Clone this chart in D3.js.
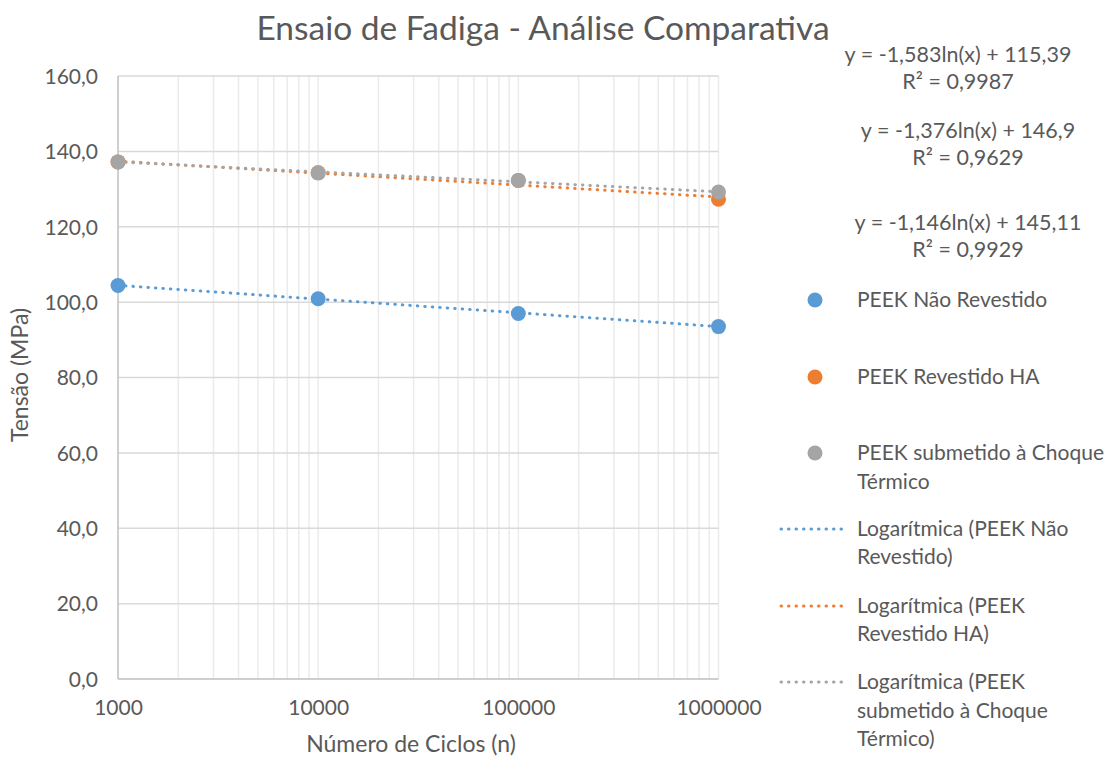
<!DOCTYPE html>
<html>
<head>
<meta charset="utf-8">
<script src="https://cdn.jsdelivr.net/npm/d3@7"></script>
<style>
  html, body { margin: 0; padding: 0; background: #fff; }
  svg { display: block; font-family: Lato, "Open Sans", sans-serif; }
</style>
</head>
<body>
<svg id="chart" width="1109" height="758"></svg>
<script>
// Fatigue test: stress vs number of cycles for three PEEK conditions
const cycles = [1000, 10000, 100000, 1000000];
const naoRevestido = [104.4, 100.9, 97.0, 93.5];
const revestidoHA = [137.2, 134.3, 132.3, 127.3];
const choqueTermico = [137.2, 134.3, 132.3, 129.2];

const seriesNames = ["PEEK Não Revestido", "PEEK Revestido HA", "PEEK submetido à Choque Térmico"];
const seriesColors = ["#5b9bd5", "#ed7d31", "#a5a5a5"];

// Logarithmic trend lines y = a·ln(x) + b
const trendA = [-1.583, -1.376, -1.146];
const trendB = [115.39, 146.9, 145.11];
const trendR2 = ["0,9987", "0,9629", "0,9929"];
const trendLabels = [
  ["Logarítmica (PEEK Não", "Revestido)"],
  ["Logarítmica (PEEK", "Revestido HA)"],
  ["Logarítmica (PEEK", "submetido à Choque", "Térmico)"]
];

const yTicks = [0, 20, 40, 60, 80, 100, 120, 140, 160];
const xTicks = [1000, 10000, 100000, 1000000];

const svg = d3.select("#chart");
const textColor = "#595959";
const fmtComma = (v, d) => v.toFixed(d).replace(".", ",");

const plotL = 118, plotR = 718.5, plotT = 76, plotB = 679;
const x = d3.scaleLog().domain([1000, 1000000]).range([plotL, plotR]);
const y = d3.scaleLinear().domain([0, 160]).range([plotB, plotT]);

// Title
svg.append("text").attr("x", 543).attr("y", 40)
  .attr("text-anchor", "middle").attr("fill", textColor)
  .attr("font-size", 33.5).text("Ensaio de Fadiga - Análise Comparativa");

// Vertical grid (major + minor decades)
const minor = [];
for (let e = 3; e < 6; e++) for (let m = 1; m <= 9; m++) minor.push(m * Math.pow(10, e));
minor.push(1000000);
svg.append("g").selectAll("line").data(minor.filter(v => v > 1000)).join("line")
  .attr("x1", d => x(d)).attr("x2", d => x(d))
  .attr("y1", plotT).attr("y2", plotB)
  .attr("stroke", "#ebebeb").attr("stroke-width", 1.5);

// Horizontal grid
svg.append("g").selectAll("line").data(yTicks.filter(v => v > 0)).join("line")
  .attr("x1", plotL).attr("x2", plotR)
  .attr("y1", d => y(d)).attr("y2", d => y(d))
  .attr("stroke", "#d9d9d9").attr("stroke-width", 1.5);

// Axis lines
svg.append("line").attr("x1", plotL).attr("x2", plotL).attr("y1", plotT).attr("y2", plotB)
  .attr("stroke", "#bfbfbf").attr("stroke-width", 1.5);
svg.append("line").attr("x1", plotL).attr("x2", plotR).attr("y1", plotB).attr("y2", plotB)
  .attr("stroke", "#bfbfbf").attr("stroke-width", 1.5);

// Tick labels via d3 axes
const yAxis = svg.append("g").attr("transform", `translate(${plotL},0)`)
  .call(d3.axisLeft(y).tickValues(yTicks).tickSize(0).tickPadding(20)
    .tickFormat(d => fmtComma(d, 1)));
const xAxis = svg.append("g").attr("transform", `translate(0,${plotB})`)
  .call(d3.axisBottom(x).tickValues(xTicks).tickSize(0).tickPadding(21)
    .tickFormat(d => String(d)));
[yAxis, xAxis].forEach(g => {
  g.select(".domain").remove();
  g.selectAll("text").attr("fill", textColor).attr("font-size", 21)
    .attr("font-family", "Lato, sans-serif");
});
yAxis.selectAll("text").attr("dy", "0.35em");

// Axis titles
svg.append("text").attr("x", 411).attr("y", 752).attr("text-anchor", "middle")
  .attr("fill", textColor).attr("font-size", 23).text("Número de Ciclos (n)");
svg.append("text").attr("transform", "translate(28,375) rotate(-90)")
  .attr("text-anchor", "middle").attr("fill", textColor).attr("font-size", 23)
  .text("Tensão (MPa)");

// Trend lines
const trendPts = d3.range(0, 61).map(i => Math.pow(10, 3 + i * 0.05));
const line = d3.line().x(d => x(d[0])).y(d => y(d[1]));
trendA.forEach((a, i) => {
  svg.append("path")
    .attr("d", line(trendPts.map(v => [v, a * Math.log(v) + trendB[i]])))
    .attr("fill", "none").attr("stroke", seriesColors[i]).attr("stroke-width", 3)
    .attr("stroke-linecap", "round").attr("stroke-dasharray", "0.5 7");
});

// Data markers
[naoRevestido, revestidoHA, choqueTermico].forEach((vals, i) => {
  svg.append("g").selectAll("circle").data(vals).join("circle")
    .attr("cx", (d, j) => x(cycles[j])).attr("cy", d => y(d))
    .attr("r", 7.5).attr("fill", seriesColors[i]);
});

// Trend equations
const eqPos = [[958, 62, 89], [968, 138, 165], [968, 230, 257]];
trendA.forEach((a, i) => {
  const [ex, ey1, ey2] = eqPos[i];
  svg.append("text").attr("x", ex).attr("y", ey1).attr("text-anchor", "middle")
    .attr("fill", textColor).attr("font-size", 21.5)
    .text(`y = ${fmtComma(a, 3)}ln(x) + ${String(trendB[i]).replace(".", ",")}`);
  svg.append("text").attr("x", ex).attr("y", ey2).attr("text-anchor", "middle")
    .attr("fill", textColor).attr("font-size", 21.5)
    .text(`R² = ${trendR2[i]}`);
});

// Legend
const legTextX = 857;
const markerRows = [[300], [377], [453, 482]];
const markerLabels = [["PEEK Não Revestido"], ["PEEK Revestido HA"], ["PEEK submetido à Choque", "Térmico"]];
markerRows.forEach((rows, i) => {
  svg.append("circle").attr("cx", 815).attr("cy", rows[0]).attr("r", 7.5)
    .attr("fill", seriesColors[i]);
  rows.forEach((ry, k) => {
    svg.append("text").attr("x", legTextX).attr("y", ry).attr("dy", "0.35em")
      .attr("fill", textColor).attr("font-size", 21).text(markerLabels[i][k]);
  });
});
const lineRows = [[529, 557], [606, 634], [682, 711, 739]];
lineRows.forEach((rows, i) => {
  svg.append("line").attr("x1", 781).attr("x2", 848)
    .attr("y1", rows[0]).attr("y2", rows[0])
    .attr("stroke", seriesColors[i]).attr("stroke-width", 3)
    .attr("stroke-linecap", "round").attr("stroke-dasharray", "0.5 7");
  rows.forEach((ry, k) => {
    svg.append("text").attr("x", legTextX).attr("y", ry).attr("dy", "0.35em")
      .attr("fill", textColor).attr("font-size", 21).text(trendLabels[i][k]);
  });
});
</script>
</body>
</html>
